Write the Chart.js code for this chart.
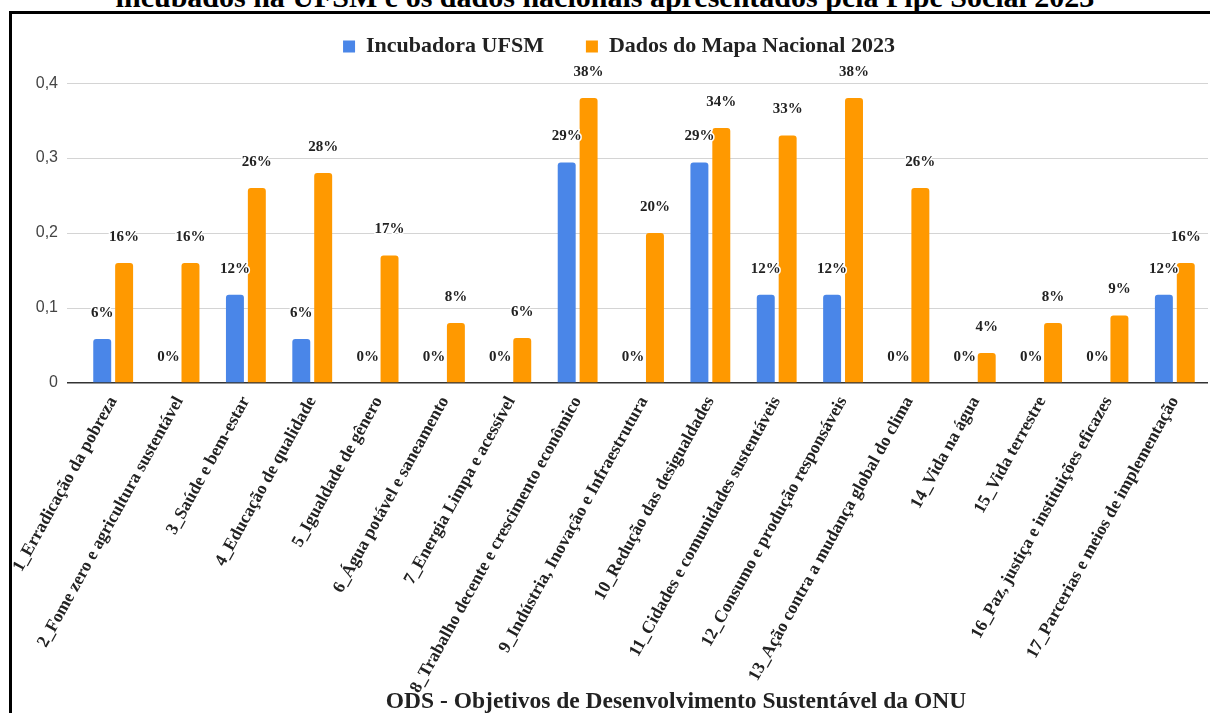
<!DOCTYPE html>
<html lang="pt-BR">
<head>
<meta charset="utf-8">
<title>ODS - Incubadora UFSM x Mapa Nacional 2023</title>
<script src="https://cdn.jsdelivr.net/npm/chart.js@4.4.1/dist/chart.umd.min.js"></script>
<style>
    html, body { margin: 0; padding: 0; background: #fff; }
    body { width: 1210px; height: 713px; overflow: hidden; position: relative; }
    #caption {
        position: absolute; left: 0; top: -18px; width: 1210px;
        text-align: center; font: bold 30px 'Liberation Serif', serif; line-height: 30px; color: #000;
        white-space: nowrap;
    }
    #frame {
        position: absolute; left: 9px; top: 11px; width: 1400px; height: 800px;
        border-left: 3px solid #000; border-top: 3px solid #000;
    }
    #myChart { position: absolute; left: 12px; top: -18px; }
    #xtitle {
        position: absolute; left: 0; top: 689px; width: 1352px;
        text-align: center; font: bold 23.5px 'Liberation Serif', serif; line-height: 23px; color: #222;
        white-space: nowrap;
    }
</style>
</head>
<body>
<div id="caption">incubados na UFSM e os dados nacionais apresentados pela Pipe Social 2023</div>
<div id="frame"></div>
<canvas id="myChart" width="1200" height="720"></canvas>
<div id="xtitle">ODS - Objetivos de Desenvolvimento Sustentável da ONU</div>
<script>
// categorias (ODS)
const categorias = [
    "1_Erradicação da pobreza",
    "2_Fome zero e agricultura sustentável",
    "3_Saúde e bem-estar",
    "4_Educação de qualidade",
    "5_Igualdade de gênero",
    "6_Água potável e saneamento",
    "7_Energia Limpa e acessível",
    "8_Trabalho decente e crescimento econômico",
    "9_Indústria, Inovação e Infraestrutura",
    "10_Redução das desigualdades",
    "11_Cidades e comunidades sustentáveis",
    "12_Consumo e produção responsáveis",
    "13_Ação contra a mudança global do clima",
    "14_Vida na água",
    "15_Vida terrestre",
    "16_Paz, justiça e instituições eficazes",
    "17_Parcerias e meios de implementação"
];
const incubadoraUFSM = [0.0588, 0, 0.1176, 0.0588, 0, 0, 0, 0.2941, 0, 0.2941, 0.1176, 0.1176, 0, 0, 0, 0, 0.1176];
const mapaNacional = [0.16, 0.16, 0.26, 0.28, 0.17, 0.08, 0.06, 0.38, 0.20, 0.34, 0.33, 0.38, 0.26, 0.04, 0.08, 0.09, 0.16];
const yTickLabels = ["0", "0,1", "0,2", "0,3", "0,4"];

// rótulos de porcentagem acima das barras
const rotulosPlugin = {
    id: 'rotulos',
    afterDatasetsDraw: function (chart) {
        let c = chart.ctx;
        c.save();
        c.font = "bold 15px 'Liberation Serif'";
        c.textAlign = 'center';
        c.textBaseline = 'middle';
        c.lineJoin = 'round';
        c.lineWidth = 3;
        c.strokeStyle = '#fff';
        c.fillStyle = '#222';
        chart.data.datasets.forEach(function (ds, d) {
            let meta = chart.getDatasetMeta(d);
            meta.data.forEach(function (bar, i) {
                let txt = Math.round(ds.data[i] * 100) + '%';
                c.strokeText(txt, bar.x, bar.y - 26);
                c.fillText(txt, bar.x, bar.y - 26);
            });
        });
        c.restore();
    }
};

Chart.defaults.font.family = "'Liberation Serif', serif";

let ctx = document.getElementById('myChart').getContext('2d');
let myChart = new Chart(ctx, {
    type: 'bar',
    data: {
        labels: categorias,
        datasets: [{
            label: 'Incubadora UFSM',
            data: incubadoraUFSM,
            backgroundColor: '#4a86e8',
            borderWidth: 0,
            borderRadius: 3,
            borderSkipped: 'start'
        }, {
            label: 'Dados do Mapa Nacional 2023',
            data: mapaNacional,
            backgroundColor: '#ff9900',
            borderWidth: 0,
            borderRadius: 3,
            borderSkipped: 'start'
        }]
    },
    options: {
        responsive: false,
        devicePixelRatio: 1,
        animation: false,
        layout: { padding: { left: 18, right: 4, top: 11.5, bottom: 0 } },
        datasets: { bar: { categoryPercentage: 0.66, barPercentage: 0.82 } },
        plugins: {
            legend: {
                position: 'top',
                labels: {
                    boxWidth: 12,
                    boxHeight: 12,
                    padding: 42,
                    color: '#222',
                    font: { size: 22, weight: 'bold' }
                }
            },
            // espaço vazio entre a legenda e o gráfico
            subtitle: {
                display: true,
                position: 'top',
                weight: 500,
                text: ' ',
                font: { size: 13 },
                padding: 0
            },
            tooltip: { enabled: false }
        },
        scales: {
            x: {
                grid: { display: false, drawTicks: false },
                border: { display: false },
                ticks: {
                    autoSkip: false,
                    minRotation: 61,
                    maxRotation: 61,
                    padding: 10,
                    color: '#222',
                    font: { size: 17.5, weight: 'bold' }
                },
                afterFit: function (scale) {
                    scale.height = 319;
                    scale.paddingLeft = 0; // o rótulo inclinado pode sair pela esquerda
                    scale.paddingRight = 0;
                }
            },
            y: {
                min: 0,
                max: 0.4,
                border: { display: false },
                grid: {
                    drawTicks: true,
                    tickLength: 13,
                    color: function (c) { return c.tick && c.tick.value === 0 ? '#333' : '#d4d4d4'; },
                    tickColor: function (c) { return c.tick && c.tick.value === 0 ? '#333' : '#d4d4d4'; },
                    lineWidth: function (c) { return c.tick && c.tick.value === 0 ? 1.5 : 1; }
                },
                ticks: {
                    stepSize: 0.1,
                    padding: 9,
                    color: '#444',
                    font: { family: "'Liberation Sans', sans-serif", size: 16 },
                    callback: function (value, index) { return yTickLabels[index]; }
                },
                afterFit: function (scale) { scale.width = 50; }
            }
        }
    },
    plugins: [rotulosPlugin]
});
</script>
</body>
</html>
